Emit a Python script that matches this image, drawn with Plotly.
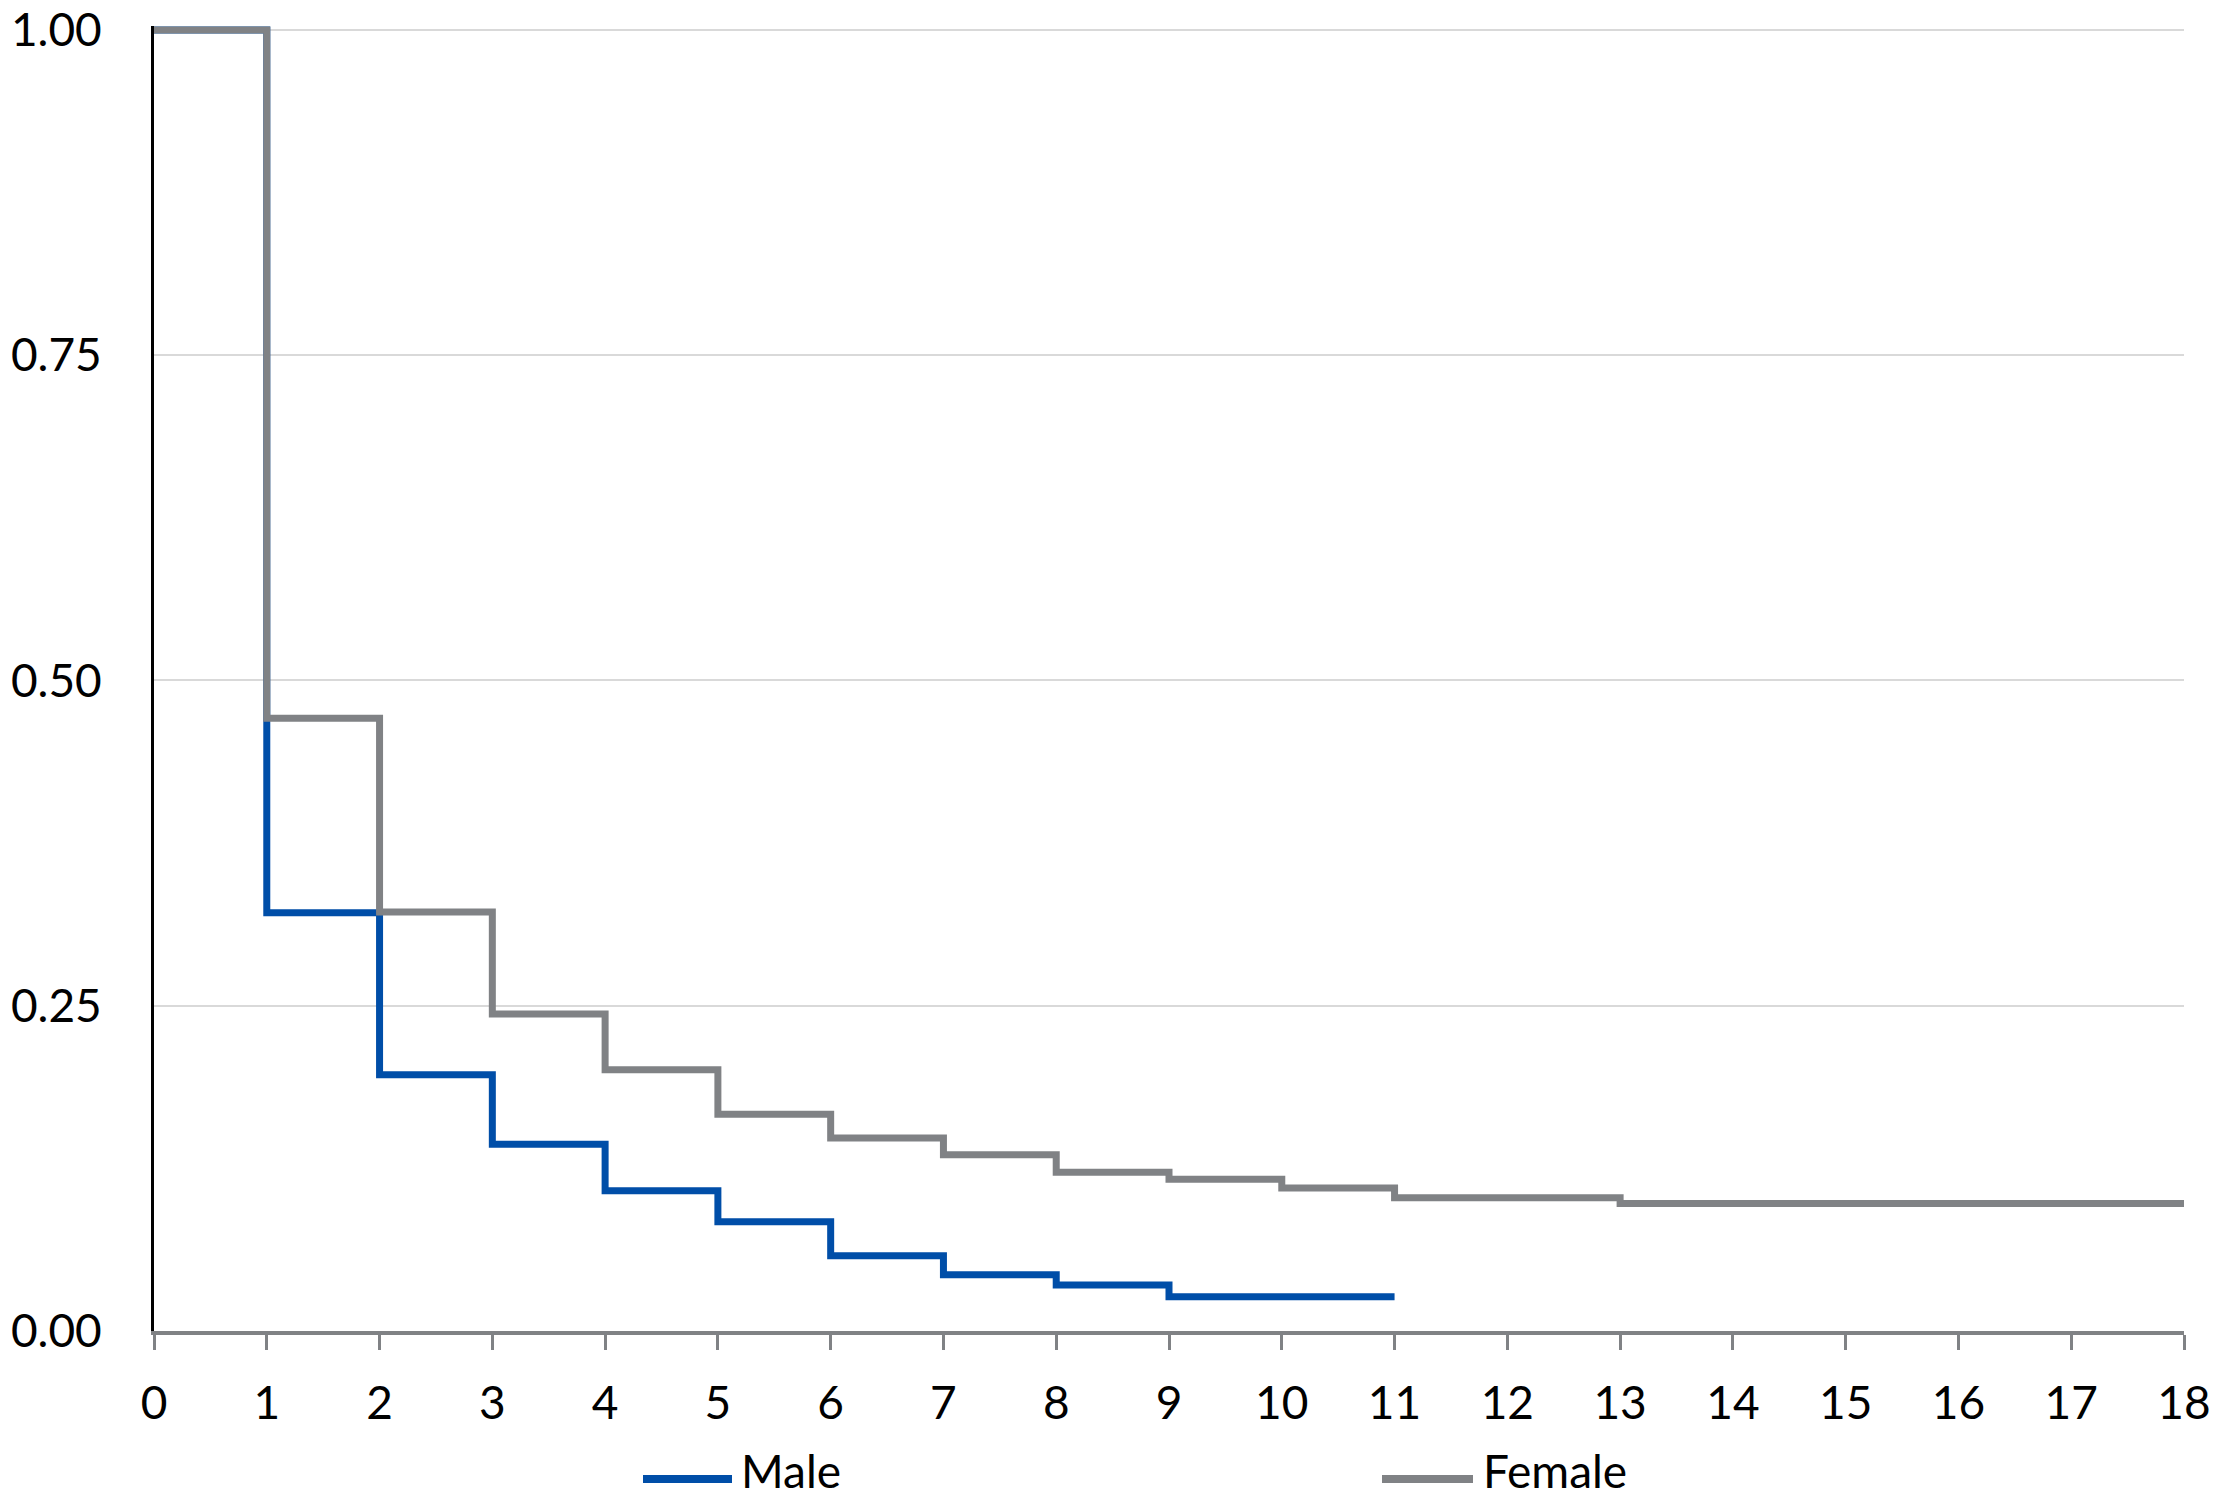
import plotly.graph_objects as go

# Survival-type step curves
male_years = [0, 1, 2, 3, 4, 5, 6, 7, 8, 9, 11]
male_values = [1.0, 0.3215, 0.197, 0.1436, 0.1077, 0.0839, 0.0578, 0.0432, 0.0354, 0.0264, 0.0264]

female_years = [0, 1, 2, 3, 4, 5, 6, 7, 8, 9, 10, 11, 13, 18]
female_values = [1.0, 0.471, 0.322, 0.2436, 0.2008, 0.1665, 0.1484, 0.1355, 0.122, 0.1166,
                 0.110, 0.1025, 0.098, 0.098]

x_ticks = list(range(0, 19))
y_ticks = [0, 0.25, 0.5, 0.75, 1.0]
y_tick_labels = ["0.00", "0.25", "0.50", "0.75", "1.00"]

series_names = ["Male", "Female"]

BLUE = "#004EA8"
GRAY = "#808285"
FONT = "Lato"
FS = 46

W, H = 2216, 1502
L, R, T, B = 154, 32, 26, 171
pw = W - L - R
ph = H - T - B


def px_x(p):
    return (p - L) / pw


def px_y(p):
    return (H - B - p) / ph


fig = go.Figure()
fig.add_trace(go.Scatter(x=male_years, y=male_values, mode="lines", name=series_names[0],
                         line=dict(color=BLUE, width=7, shape="hv"), showlegend=False))
fig.add_trace(go.Scatter(x=female_years, y=female_values, mode="lines", name=series_names[1],
                         line=dict(color=GRAY, width=7, shape="hv"), showlegend=False))

# Legend drawn as long line keys with labels, as in the reference
legend_items = [(series_names[0], BLUE, 643, 732, 739), (series_names[1], GRAY, 1382, 1473, 1481)]
shapes = []
annotations = []
for name, col, x0, x1, xt in legend_items:
    shapes.append(dict(type="line", xref="paper", yref="paper",
                       x0=px_x(x0), x1=px_x(x1), y0=px_y(1479), y1=px_y(1479),
                       line=dict(color=col, width=8)))
    annotations.append(dict(text=name, xref="paper", yref="paper", x=px_x(xt), y=px_y(1500),
                            xanchor="left", yanchor="bottom", showarrow=False,
                            font=dict(family=FONT, size=FS, color="black")))

fig.update_layout(
    width=W, height=H,
    margin=dict(l=L, r=R, t=T, b=B),
    paper_bgcolor="white", plot_bgcolor="white",
    font=dict(family=FONT, size=FS, color="black"),
    showlegend=False,
    shapes=shapes,
    annotations=annotations,
)
fig.update_xaxes(range=[0, 18], tickmode="array", tickvals=x_ticks,
                 showgrid=False, zeroline=False, automargin=False,
                 showline=True, linecolor=GRAY, linewidth=4,
                 ticks="outside", ticklen=15, tickwidth=3, tickcolor=GRAY,
                 ticklabelstandoff=14,
                 tickfont=dict(family=FONT, size=FS, color="black"))
fig.update_yaxes(range=[0, 1.003], tickmode="array", tickvals=y_ticks, ticktext=y_tick_labels,
                 showgrid=True, gridcolor="#D9D9D9", gridwidth=2, zeroline=False, automargin=False,
                 showline=True, linecolor="black", linewidth=3,
                 ticks="", ticklabelstandoff=40,
                 tickfont=dict(family=FONT, size=FS, color="black"))

fig.write_html("out.html")
